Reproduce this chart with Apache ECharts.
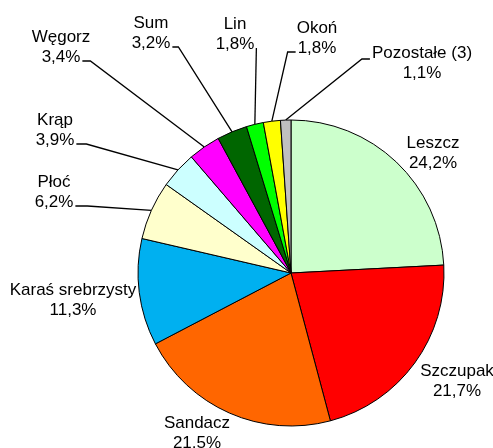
<!DOCTYPE html>
<html>
<head>
  <meta charset="utf8">
  <script src="https://cdn.jsdelivr.net/npm/echarts@6/dist/echarts.min.js"></script>
  <style>
    html, body { margin: 0; padding: 0; background: #fff; }
    #main { width: 493px; height: 448px; }
  </style>
</head>
<body>
<div id="main"></div>
<script type="text/javascript">
  // gatunki ryb i ich udzial (%)
  var names = ['Leszcz', 'Szczupak', 'Sandacz', 'Karaś srebrzysty', 'Płoć', 'Krąp',
               'Węgorz', 'Sum', 'Lin', 'Okoń', 'Pozostałe (3)'];
  var values = [24.2, 21.7, 21.5, 11.3, 6.2, 3.9, 3.4, 3.2, 1.8, 1.8, 1.1];
  var colors = ['#ccffcc', '#ff0000', '#ff6600', '#00b0f0', '#ffffcc', '#ccffff',
                '#ff00ff', '#006600', '#00ff00', '#ffff00', '#c0c0c0'];
  // srodki etykiet (px), miejsce zaczepienia linii i dlugosc poziomego odcinka
  var labelPos = [[433, 153], [457, 381], [197, 433], [73, 300], [54, 192], [55, 130],
                  [61, 47], [151, 33], [235, 34], [317, 38], [422, 63]];
  var lineAttach = [null, null, null, null, 'r2', 'r2', 'r2', 'r2', 'r2', 'l2', 'l1'];
  var bendLen = [0, 0, 0, 0, 12, 10, 8, 6, 0, 8, 8];

  var FONT = '17px Arial, "Liberation Sans", sans-serif';
  var ctx = document.createElement('canvas').getContext('2d');
  ctx.font = FONT;
  function fmt(v) { return v.toFixed(1).replace('.', ',') + '%'; }

  var data = [];
  for (var i = 0; i < names.length; i++) {
      data.push({
          name: names[i],
          value: values[i],
          itemStyle: { color: colors[i] },
          labelLine: { show: lineAttach[i] != null }
      });
  }

  var myChart = echarts.init(document.getElementById('main'));
  myChart.setOption({
      animation: false,
      series: [{
          type: 'pie',
          center: [291, 273],
          radius: 153,
          startAngle: 90,
          clockwise: true,
          avoidLabelOverlap: false,
          data: data,
          itemStyle: { borderColor: '#000', borderWidth: 1 },
          label: {
              show: true,
              position: 'outside',
              fontFamily: 'Arial, "Liberation Sans", sans-serif',
              fontSize: 17,
              lineHeight: 20,
              color: '#000',
              align: 'center',
              formatter: function (p) {
                  return p.name + '\n' + fmt(p.value);
              }
          },
          labelLine: {
              length: 10,
              length2: 8,
              lineStyle: { color: '#000', width: 1.3 }
          },
          labelLayout: function (p) {
              var k = p.dataIndex;
              var pos = labelPos[k];
              var out = { x: pos[0], y: pos[1], align: 'center', verticalAlign: 'middle' };
              var a = lineAttach[k];
              if (a && p.labelLinePoints) {
                  var w1 = ctx.measureText(names[k]).width;
                  var w2 = ctx.measureText(fmt(values[k])).width;
                  var end;
                  if (a === 'r2') end = [pos[0] + w2 / 2 + 2, pos[1] + 14];
                  else if (a === 'l2') end = [pos[0] - w2 / 2 - 2, pos[1] + 14];
                  else end = [pos[0] - w1 / 2 - 2, pos[1] - 4];
                  var dir = a.charAt(0) === 'r' ? 1 : -1;
                  var bend = [end[0] + dir * bendLen[k], end[1]];
                  out.labelLinePoints = [p.labelLinePoints[0], bend, end];
              }
              return out;
          }
      }]
  });
</script>
</body>
</html>
